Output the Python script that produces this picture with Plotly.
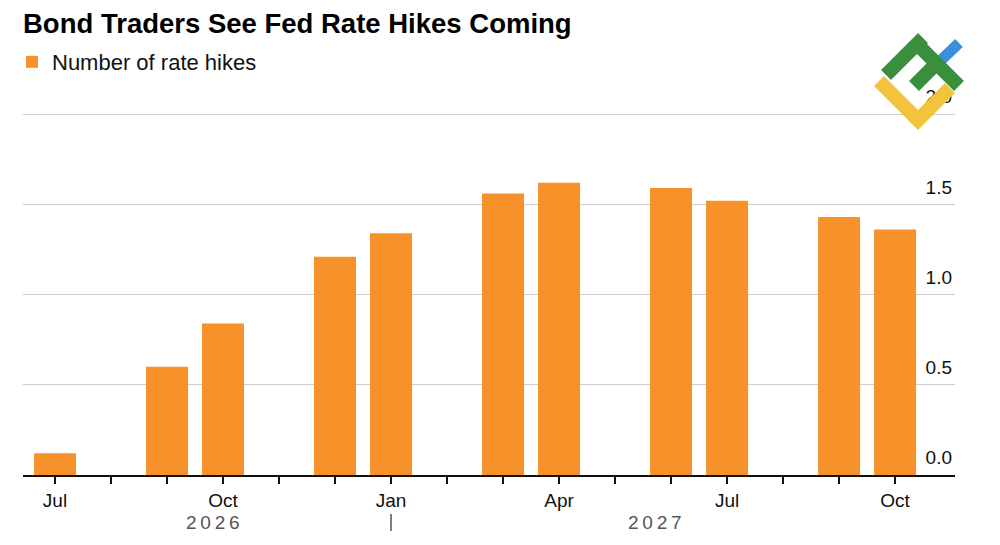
import plotly.graph_objects as go

# ---- data ----
meeting_months = ["2026-07", "2026-09", "2026-10", "2026-12", "2027-01", "2027-03",
                  "2027-04", "2027-06", "2027-07", "2027-09", "2027-10"]
rate_hikes = [0.12, 0.60, 0.84, 1.21, 1.34, 1.56, 1.62, 1.59, 1.52, 1.43, 1.36]
axis_months = ["2026-07", "2026-08", "2026-09", "2026-10", "2026-11", "2026-12",
               "2027-01", "2027-02", "2027-03", "2027-04", "2027-05", "2027-06",
               "2027-07", "2027-08", "2027-09", "2027-10"]
month_labels = {"2026-07": "Jul", "2026-10": "Oct", "2027-01": "Jan",
                "2027-04": "Apr", "2027-07": "Jul", "2027-10": "Oct"}
year_labels = ["2026", "2027"]
y_ticks = [0.0, 0.5, 1.0, 1.5, 2.0]


def midx(m):
    y, mo = m.split("-")
    return (int(y) - 2026) * 12 + int(mo) - 7


x_vals = [midx(m) for m in meeting_months]
tick_vals = [midx(m) for m in axis_months]
tick_text = [month_labels.get(m, "") for m in axis_months]

FONT = "Liberation Sans, Arial, Helvetica, sans-serif"
ORANGE = "#F7912A"

fig = go.Figure()
fig.add_trace(go.Bar(
    x=x_vals, y=rate_hikes, name="Number of rate hikes",
    marker=dict(color=ORANGE, line=dict(width=0)), width=0.75,
))

W, H = 1000, 545
ML, MR, MT, MB = 23, 45, 78, 70
pw = W - ML - MR
ph = H - MT - MB


def px(x):
    return (x - ML) / pw


def py(y):
    return (H - MB - y) / ph


shapes = []
# year separator at Jan
shapes.append(dict(type="line", xref="x", yref="paper", x0=midx("2027-01"), x1=midx("2027-01"),
                   y0=py(514), y1=py(531), line=dict(color="#555555", width=1.5)))


# logo (watermark)
def seg(x0, y0, x1, y1, color, w=14):
    shapes.append(dict(type="line", xref="paper", yref="paper",
                       x0=px(x0), y0=py(y0), x1=px(x1), y1=py(y1),
                       line=dict(color=color, width=w), layer="above"))


seg(936, 65, 959, 43, "#3C8FDB", 11)
seg(879, 81, 918, 120, "#F2C33B")
seg(913, 125, 950, 88, "#F2C33B")
seg(886, 75, 923, 38, "#3A8F3C")
seg(916, 43, 959, 86, "#3A8F3C")
seg(914, 86, 940, 60, "#3A8F3C")

annotations = []
year_pos = [2.82, 10.71]
for yl, xp in zip(year_labels, year_pos):
    annotations.append(dict(text="\u2009".join(yl), x=xp, xref="x", y=py(522), yref="paper",
                            showarrow=False, xanchor="center", yanchor="middle",
                            font=dict(family=FONT, size=19, color="#555555")))

fig.update_layout(
    width=W, height=H,
    margin=dict(l=ML, r=MR, t=MT, b=MB, pad=0, autoexpand=False),
    paper_bgcolor="white", plot_bgcolor="white",
    font=dict(family=FONT, color="#111111"),
    title=dict(text="<b>Bond Traders See Fed Rate Hikes Coming</b>",
               x=ML / W, xref="container", xanchor="left",
               y=1 - 23 / H, yref="container", yanchor="middle",
               font=dict(family=FONT, size=27.5, color="#000000")),
    showlegend=True,
    legend=dict(orientation="h", x=0.012, xref="container", xanchor="left",
                y=1 - 62 / H, yref="container", yanchor="middle",
                font=dict(family=FONT, size=22, color="#111111"),
                bgcolor="rgba(0,0,0,0)", borderwidth=0),
    xaxis=dict(range=[-0.571, 16.07], tickmode="array", tickvals=tick_vals, ticktext=tick_text,
               ticks="outside", ticklen=7, tickwidth=1.5, tickcolor="#111111",
               showline=True, linecolor="#111111", linewidth=1.5,
               showgrid=False, zeroline=False, fixedrange=True, automargin=False,
               tickfont=dict(family=FONT, size=19, color="#111111")),
    yaxis=dict(range=[0, 2.2], side="right", tickmode="array", tickvals=y_ticks,
               ticktext=["%.1f" % v for v in y_ticks],
               ticklabelposition="inside top", ticks="", ticklabelshift=-4,
               showgrid=True, gridcolor="#CCCCCC", gridwidth=1,
               zeroline=False, showline=False, fixedrange=True, automargin=False,
               tickfont=dict(family=FONT, size=19, color="#111111")),
    bargap=0.25,
    shapes=shapes,
    annotations=annotations,
)

fig.write_html("out.html")
